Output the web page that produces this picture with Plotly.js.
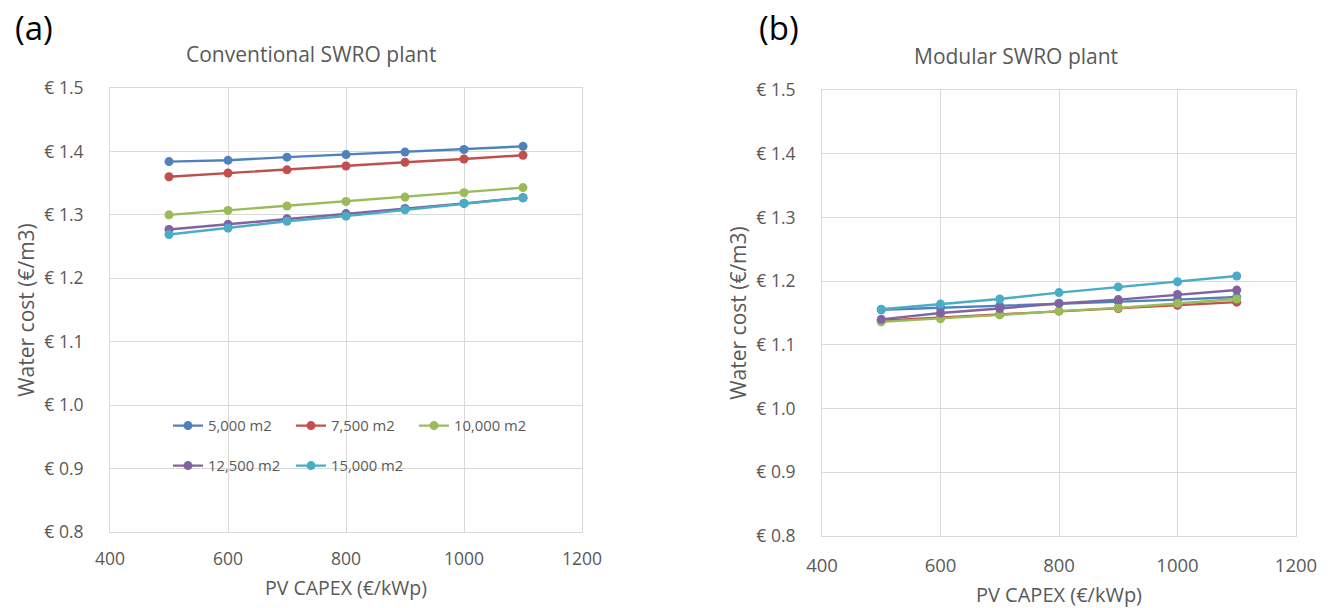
<!DOCTYPE html>
<html>
<head>
<meta charset="utf-8">
<script src="https://cdn.plot.ly/plotly-3.0.1.min.js"></script>
<style>html,body{margin:0;padding:0;background:#fff;}#chart{width:1328px;height:608px;}</style>
</head>
<body>
<div id="chart"></div>
<script>
const capex = [500, 600, 700, 800, 900, 1000, 1100];
const seriesNames = ["5,000 m2", "7,500 m2", "10,000 m2", "12,500 m2", "15,000 m2"];
const seriesColors = ["#4F81BD", "#C0504D", "#9BBB59", "#8064A2", "#4BACC6"];

// (a) Conventional SWRO plant
const conv5000  = [1.384, 1.386, 1.391, 1.395, 1.399, 1.403, 1.408];
const conv7500  = [1.360, 1.366, 1.371, 1.377, 1.383, 1.388, 1.394];
const conv10000 = [1.300, 1.307, 1.314, 1.321, 1.328, 1.335, 1.343];
const conv12500 = [1.277, 1.285, 1.294, 1.302, 1.310, 1.318, 1.327];
const conv15000 = [1.269, 1.279, 1.290, 1.298, 1.308, 1.318, 1.327];

// (b) Modular SWRO plant
const mod5000  = [1.155, 1.158, 1.161, 1.165, 1.168, 1.171, 1.175];
const mod7500  = [1.138, 1.143, 1.148, 1.153, 1.157, 1.162, 1.167];
const mod10000 = [1.136, 1.141, 1.147, 1.153, 1.158, 1.165, 1.172];
const mod12500 = [1.140, 1.150, 1.157, 1.165, 1.171, 1.179, 1.186];
const mod15000 = [1.156, 1.164, 1.172, 1.182, 1.191, 1.199, 1.208];

const convData = [conv5000, conv7500, conv10000, conv12500, conv15000];
const modData = [mod5000, mod7500, mod10000, mod12500, mod15000];

const FONT = "'Open Sans', sans-serif";
const GREY = "#595959";
const GRID = "#d9d9d9";

const traces = [];
convData.forEach((ys, i) => {
  traces.push({
    x: capex, y: ys, name: seriesNames[i], type: "scatter", mode: "lines+markers",
    line: {color: seriesColors[i], width: 2.4}, marker: {color: seriesColors[i], size: 9},
    xaxis: "x", yaxis: "y", legend: i < 3 ? "legend" : "legend2"
  });
});
modData.forEach((ys, i) => {
  traces.push({
    x: capex, y: ys, name: seriesNames[i], type: "scatter", mode: "lines+markers",
    line: {color: seriesColors[i], width: 2.4}, marker: {color: seriesColors[i], size: 9},
    xaxis: "x2", yaxis: "y2", showlegend: false
  });
});

function xax(domain, anchor, fs, tfs, lstand, standoff) {
  return {
    domain: domain, anchor: anchor, range: [400, 1200], dtick: 200, tick0: 400,
    showgrid: true, gridcolor: GRID, gridwidth: 1,
    showline: true, linecolor: GRID, linewidth: 1, mirror: true, zeroline: false,
    ticks: "", ticklabelstandoff: lstand, tickfont: {family: FONT, size: fs, color: GREY},
    title: {text: "PV CAPEX (€/kWp)", font: {family: FONT, size: tfs, color: GREY}, standoff: standoff},
    fixedrange: true
  };
}
function yax(domain, anchor) {
  return {
    domain: domain, anchor: anchor, range: [0.8, 1.5], dtick: 0.1, tick0: 0.8,
    tickprefix: "€ ", tickformat: ".1f",
    showgrid: true, gridcolor: GRID, gridwidth: 1,
    showline: true, linecolor: GRID, linewidth: 1, mirror: true, zeroline: false,
    ticks: "", ticklabelstandoff: 22, tickfont: {family: FONT, size: 17.5, color: GREY},
    title: {text: "Water cost (€/m3)", font: {family: FONT, size: 21, color: GREY}, standoff: 3},
    fixedrange: true
  };
}

const legendCommon = {
  orientation: "h", xref: "paper", yref: "paper", xanchor: "left", yanchor: "middle",
  bgcolor: "rgba(0,0,0,0)", borderwidth: 0,
  font: {family: FONT, size: 14.8, color: GREY},
  entrywidth: 78, entrywidthmode: "pixels", itemwidth: 30, tracegroupgap: 0
};

const layout = {
  width: 1328, height: 608,
  margin: {l: 0, r: 0, t: 0, b: 0},
  paper_bgcolor: "#ffffff", plot_bgcolor: "#ffffff",
  showlegend: true,
  xaxis: xax([110/1328, 582/1328], "y", 17.5, 19.5, 11, 12),
  yaxis: yax([(608-532)/608, (608-88)/608], "x"),
  xaxis2: xax([822/1328, 1296/1328], "y2", 18.5, 20, 13, 13),
  yaxis2: yax([(608-536)/608, (608-90)/608], "x2"),
  legend: Object.assign({}, legendCommon, {x: 168/1328, y: (608-426)/608}),
  legend2: Object.assign({}, legendCommon, {x: 168/1328, y: (608-466)/608}),
  annotations: [
    {text: "(a)", x: 13/1328, y: (608-28)/608, xref: "paper", yref: "paper", xanchor: "left", yanchor: "middle",
     showarrow: false, font: {family: FONT, size: 33, color: "#000000"}},
    {text: "(b)", x: 757/1328, y: (608-28)/608, xref: "paper", yref: "paper", xanchor: "left", yanchor: "middle",
     showarrow: false, font: {family: FONT, size: 33, color: "#000000"}},
    {text: "Conventional SWRO plant", x: 311/1328, y: (608-54)/608, xref: "paper", yref: "paper",
     xanchor: "center", yanchor: "middle", showarrow: false, font: {family: FONT, size: 21, color: GREY}},
    {text: "Modular SWRO plant", x: 1016/1328, y: (608-56)/608, xref: "paper", yref: "paper",
     xanchor: "center", yanchor: "middle", showarrow: false, font: {family: FONT, size: 21, color: GREY}}
  ]
};

Plotly.newPlot("chart", traces, layout, {displayModeBar: false, staticPlot: true});
</script>
</body>
</html>
